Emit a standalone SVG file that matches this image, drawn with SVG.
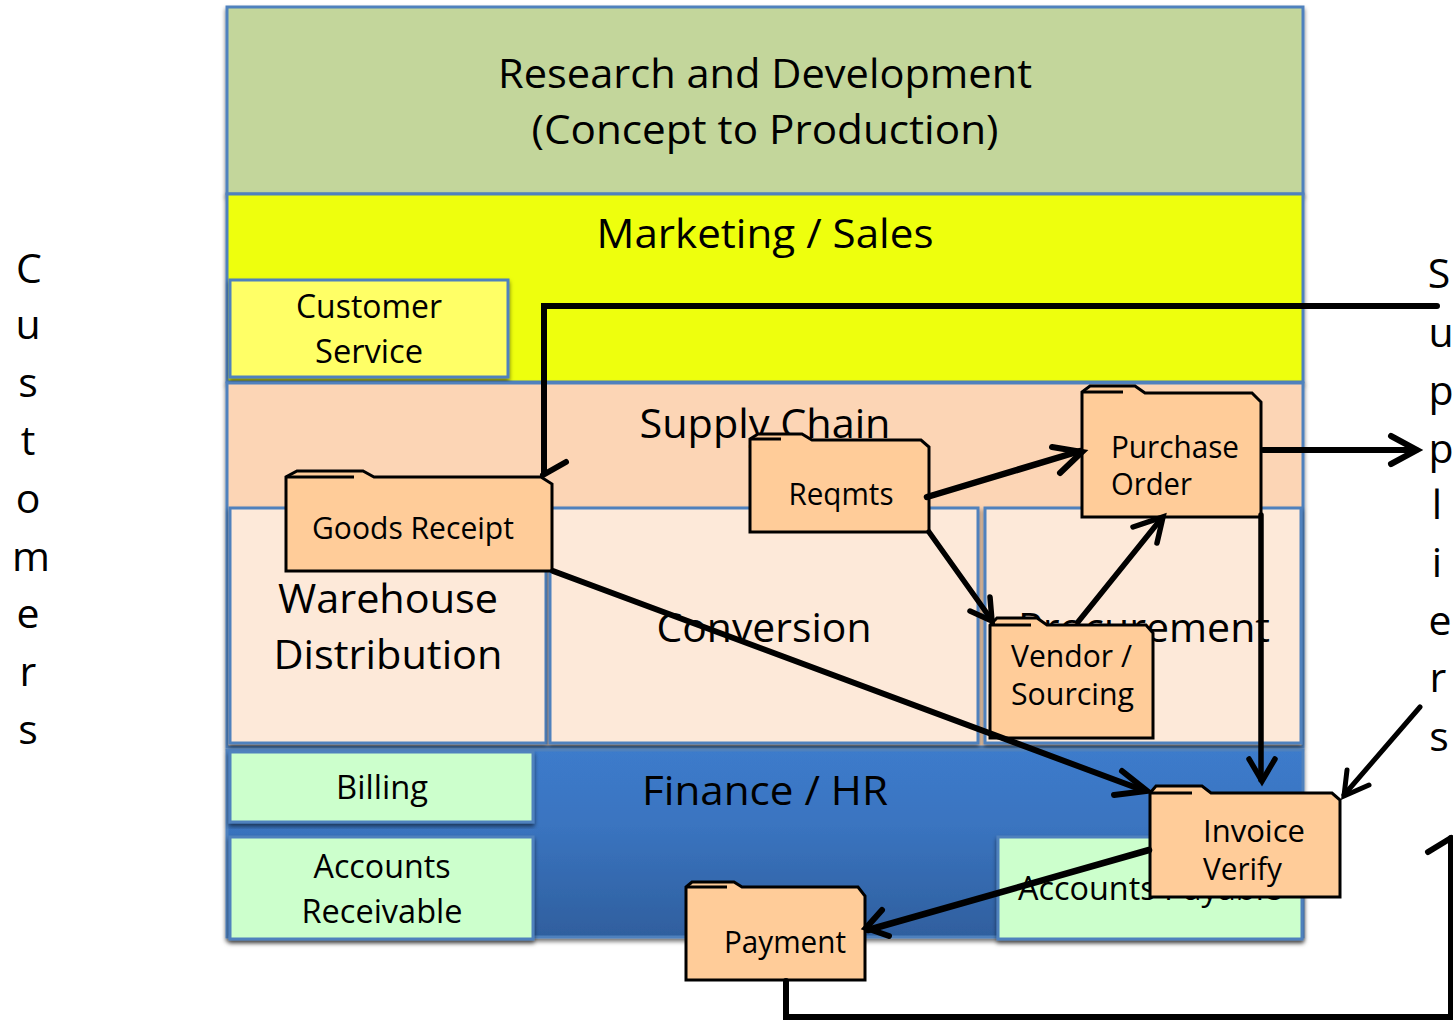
<svg xmlns="http://www.w3.org/2000/svg" width="1453" height="1021" viewBox="0 0 1453 1021">
<style>
text{font-family:"Open Sans","Noto Sans","DejaVu Sans",sans-serif;fill:#000;text-anchor:middle}
.b{stroke:#4f81bd;stroke-width:3;filter:url(#sh)}
.f{fill:#fc9;stroke:#000;stroke-width:3;stroke-linejoin:miter}
.t{fill:none;stroke:#000;stroke-width:3}
.c{fill:none;stroke:#000;stroke-linecap:round;stroke-linejoin:miter}
.t40{font-size:41px}.t32{font-size:32px}.t30{font-size:31px}
.a{text-anchor:start}
</style>
<defs>
<filter id="sh" x="-5%" y="-5%" width="110%" height="115%"><feDropShadow dx="0" dy="3" stdDeviation="2" flood-color="#000" flood-opacity=".55"/></filter>
<linearGradient id="fin" x1="0" y1="0" x2="0" y2="1"><stop offset="0" stop-color="#3c7bcb"/><stop offset=".4" stop-color="#3a74c0"/><stop offset="1" stop-color="#2f5f9e"/></linearGradient>
</defs>
<g id="customers"><text class="t40" x="29" y="283">C</text><text class="t40" x="28" y="339">u</text><text class="t40" x="28" y="397">s</text><text class="t40" x="28" y="455">t</text><text class="t40" x="28" y="513">o</text><text class="t40" x="31" y="571">m</text><text class="t40" x="28" y="628">e</text><text class="t40" x="28" y="686">r</text><text class="t40" x="28" y="744">s</text></g>
<g id="suppliers"><text class="t40" x="1439" y="288">S</text><text class="t40" x="1441" y="347">u</text><text class="t40" x="1441" y="405">p</text><text class="t40" x="1441" y="463">p</text><text class="t40" x="1437" y="519">l</text><text class="t40" x="1437" y="577">i</text><text class="t40" x="1440" y="635">e</text><text class="t40" x="1438" y="692">r</text><text class="t40" x="1439" y="751">s</text></g>
<g id="rd"><rect class="b" x="227" y="7" width="1076" height="187" fill="#c3d69b"/><text class="t40" x="765" y="88" textLength="534" lengthAdjust="spacingAndGlyphs">Research and Development</text><text class="t40" x="765" y="144" textLength="467" lengthAdjust="spacingAndGlyphs">(Concept to Production)</text></g>
<g id="marketing"><rect class="b" x="227" y="194" width="1076" height="188" fill="#eeff0a"/><text class="t40" x="765" y="248" textLength="337" lengthAdjust="spacingAndGlyphs">Marketing / Sales</text></g>
<g id="customer-service"><rect class="b" x="230" y="280" width="278" height="97" fill="#ff6"/><text class="t32" x="369" y="318" textLength="146" lengthAdjust="spacingAndGlyphs">Customer</text><text class="t32" x="369" y="363" textLength="108" lengthAdjust="spacingAndGlyphs">Service</text></g>
<g id="supply-chain"><rect class="b" x="227" y="383" width="1076" height="364" fill="#fcd5b5"/><text class="t40" x="765" y="438" textLength="251" lengthAdjust="spacingAndGlyphs">Supply Chain</text></g>
<g id="warehouse"><rect class="b" x="230" y="508" width="316" height="235" fill="#fde9d9"/><text class="t40" x="388" y="613" textLength="220" lengthAdjust="spacingAndGlyphs">Warehouse</text><text class="t40" x="388" y="669" textLength="229" lengthAdjust="spacingAndGlyphs">Distribution</text></g>
<g id="conversion"><rect class="b" x="550" y="508" width="428" height="235" fill="#fde9d9"/><text class="t40" x="764" y="642" textLength="215" lengthAdjust="spacingAndGlyphs">Conversion</text></g>
<g id="procurement"><rect class="b" x="985" y="508" width="316" height="235" fill="#fde9d9"/><text class="t40" x="1144" y="642" textLength="252" lengthAdjust="spacingAndGlyphs">Procurement</text></g>
<g id="finance"><rect class="b" x="227" y="750" width="1076" height="187" fill="url(#fin)"/><text class="t40" x="765" y="805" textLength="246" lengthAdjust="spacingAndGlyphs">Finance / HR</text></g>
<g id="billing"><rect class="b" x="230" y="752" width="303" height="70" fill="#cfc"/><text class="t32" x="382" y="799" textLength="92" lengthAdjust="spacingAndGlyphs">Billing</text></g>
<g id="receivable"><rect class="b" x="230" y="837" width="303" height="102" fill="#cfc"/><text class="t32" x="382" y="878" textLength="137" lengthAdjust="spacingAndGlyphs">Accounts</text><text class="t32" x="382" y="923" textLength="161" lengthAdjust="spacingAndGlyphs">Receivable</text></g>
<g id="payable"><rect class="b" x="998" y="837" width="304" height="102" fill="#cfc"/><text class="t32" x="1150" y="900" textLength="264" lengthAdjust="spacingAndGlyphs">Accounts Payable</text></g>
<g id="goods-receipt"><path class="f" d="M286 571V477L297 471H363L374 477H541L552 484V571Z"/><path class="t" d="M286 477H354"/><text class="t30" x="413" y="539" textLength="202" lengthAdjust="spacingAndGlyphs">Goods Receipt</text></g>
<g id="reqmts"><path class="f" d="M750 532V439L758 434H802L812 440H921L929 447V532Z"/><path class="t" d="M750 439H781"/><text class="t30" x="841" y="505" textLength="105" lengthAdjust="spacingAndGlyphs">Reqmts</text></g>
<g id="purchase-order"><path class="f" d="M1082 517V392L1090 386H1135L1145 393H1252L1261 402V517Z"/><path class="t" d="M1082 392H1123"/><text class="t30 a" x="1111" y="458" textLength="128" lengthAdjust="spacingAndGlyphs">Purchase</text><text class="t30 a" x="1111" y="495" textLength="81" lengthAdjust="spacingAndGlyphs">Order</text></g>
<g id="vendor"><path class="f" d="M990 738V625L997 618H1037L1047 625H1146L1153 633V738Z"/><path class="t" d="M990 625H1031"/><text class="t30 a" x="1011" y="667" textLength="121" lengthAdjust="spacingAndGlyphs">Vendor /</text><text class="t30 a" x="1011" y="705" textLength="123" lengthAdjust="spacingAndGlyphs">Sourcing</text></g>
<g id="invoice"><path class="f" d="M1150 897V793L1156 786H1202L1211 793H1332L1340 800V897Z"/><path class="t" d="M1150 793H1192"/><text class="t30 a" x="1203" y="842" textLength="102" lengthAdjust="spacingAndGlyphs">Invoice</text><text class="t30 a" x="1203" y="880" textLength="79" lengthAdjust="spacingAndGlyphs">Verify</text></g>
<g id="payment"><path class="f" d="M686 980V887L692 882H734L742 887H858L865 896V980Z"/><path class="t" d="M686 887H727"/><text class="t30" x="785" y="953" textLength="122" lengthAdjust="spacingAndGlyphs">Payment</text></g>
<g id="connectors">
<path class="c" stroke-width="6" d="M1437 306H544V473"/><path class="c" stroke-width="6" d="M566 462L543 475"/>
<path class="c" stroke-width="6.5" d="M927 497L1080 451"/><path class="c" stroke-width="6" d="M1052 447L1082 452L1060 473"/>
<path class="c" stroke-width="5.5" d="M929 532L991 619"/><path class="c" stroke-width="5.5" d="M970 611L992 621L990 597"/>
<path class="c" stroke-width="5.5" d="M1078 622L1161 519"/><path class="c" stroke-width="5.5" d="M1133 527L1163 517L1157 543"/>
<path class="c" stroke-width="6" d="M1263 450H1416"/><path class="c" stroke-width="6" d="M1391 436L1417 450L1391 464"/>
<path class="c" stroke-width="5.5" d="M1261 515V780"/><path class="c" stroke-width="5.5" d="M1249 759L1262 781L1275 759"/>
<path class="c" stroke-width="6" d="M553 571L1145 791"/><path class="c" stroke-width="6" d="M1122 771L1147 791L1114 795"/>
<path class="c" stroke-width="5" d="M1420 707L1344 795"/><path class="c" stroke-width="5" d="M1347 770L1344 796L1369 785"/>
<path class="c" stroke-width="6.5" d="M1149 850L868 930"/><path class="c" stroke-width="6" d="M882 910L866 928L889 936"/>
<path class="c" stroke-width="6" d="M786 981V1017H1451V838"/><path class="c" stroke-width="6" d="M1428 852L1451 838"/>
</g>
</svg>
